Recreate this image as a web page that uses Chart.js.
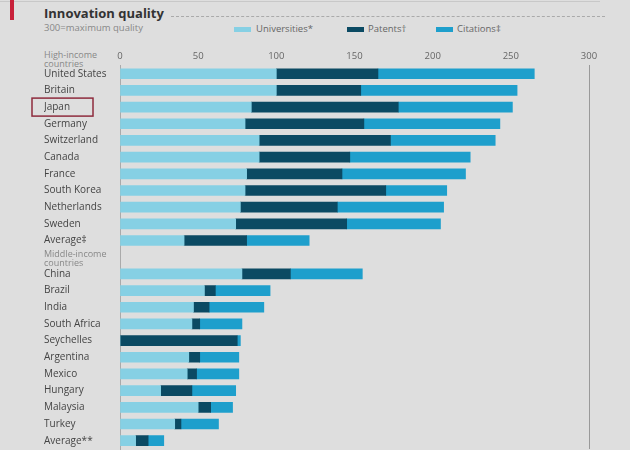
<!DOCTYPE html>
<html>
<head>
<meta charset="utf-8">
<script src="https://cdn.jsdelivr.net/npm/chart.js@4"></script>
<style>
  body { margin: 0; background: #dedede; font-family: "Open Sans", sans-serif; }
  #wrap { position: relative; width: 630px; height: 450px; overflow: hidden; }
  #chart { position: absolute; left: 0; top: 0; }
  .abs { position: absolute; white-space: nowrap; }
  .sw { position: absolute; width: 17px; height: 5px; }
  .lg { position: absolute; font-size: 9.5px; color: #666; }
</style>
</head>
<body>
<div id="wrap">
  <div class="abs" style="left:0;top:1px;width:600px;height:1px;background:#c8c8c8"></div>
  <div class="abs" style="left:10px;top:0;width:4px;height:20px;background:#c8213a"></div>
  <div class="abs" style="left:44px;top:4px;font-size:13px;font-weight:bold;color:#333">Innovation quality</div>
  <div class="abs" style="left:171px;top:16px;width:434px;border-top:1px dashed #aaa"></div>
  <div class="abs" style="left:44px;top:21px;font-size:9.5px;color:#888">300=maximum quality</div>
  <div class="sw" style="left:234px;top:27px;background:#86d0e4"></div>
  <div class="lg" style="left:256px;top:22px">Universities*</div>
  <div class="sw" style="left:347px;top:27px;background:#0b4a63"></div>
  <div class="lg" style="left:368px;top:22px">Patents†</div>
  <div class="sw" style="left:436px;top:27px;background:#1e9fcc"></div>
  <div class="lg" style="left:457px;top:22px">Citations‡</div>
  <div class="abs" style="left:44px;top:50px;font-size:9px;line-height:9px;color:#888">High-income<br>countries</div>
  <canvas id="chart" width="630" height="459"></canvas>
</div>
<script>
const countries = ['United States', 'Britain', 'Japan', 'Germany', 'Switzerland', 'Canada', 'France',
  'South Korea', 'Netherlands', 'Sweden', 'Average‡', '',
  'China', 'Brazil', 'India', 'South Africa', 'Seychelles', 'Argentina', 'Mexico', 'Hungary',
  'Malaysia', 'Turkey', 'Average**'];
const groupLabel = ['Middle-income', 'countries'];

const universities = [100, 100, 84, 80, 89, 89, 81, 80, 77, 74, 41, null,
  78, 54, 47, 46, 0, 44, 43, 26, 50, 35, 10];
const patents = [65, 54, 94, 76, 84, 58, 61, 90, 62, 71, 40, null,
  31, 7, 10, 5, 75, 7, 6, 20, 8, 4, 8];
const citations = [100, 100, 73, 87, 67, 77, 79, 39, 68, 60, 40, null,
  46, 35, 35, 27, 2, 25, 27, 28, 14, 24, 10];

const xTicks = [0, 50, 100, 150, 200, 250, 300];

// red box round Japan, and the middle-income group label
const extras = {
  id: 'extras',
  afterDraw(chart) {
    const ctx = chart.ctx;
    const y = chart.scales.y.getPixelForValue(2);
    ctx.save();
    ctx.strokeStyle = '#8e2b3d';
    ctx.lineWidth = 1.5;
    ctx.strokeRect(32, y - 9, 61, 18);
    const gy = chart.scales.y.getPixelForValue(11);
    ctx.fillStyle = '#888';
    ctx.font = '9px "Open Sans"';
    ctx.textBaseline = 'middle';
    ctx.fillText(groupLabel[0], 44, gy - 3);
    ctx.fillText(groupLabel[1], 44, gy + 6);
    ctx.restore();
  }
};

new Chart(document.getElementById('chart'), {
  type: 'bar',
  data: {
    labels: countries,
    datasets: [
      { label: 'Universities*', data: universities, backgroundColor: '#86d0e4' },
      { label: 'Patents†', data: patents, backgroundColor: '#0b4a63' },
      { label: 'Citations‡', data: citations, backgroundColor: '#1e9fcc' }
    ]
  },
  options: {
    indexAxis: 'y',
    responsive: false,
    animation: false,
    barThickness: 10,
    layout: { padding: { left: 44, right: 41, top: 48, bottom: 0 } },
    plugins: { legend: { display: false }, tooltip: { enabled: false } },
    scales: {
      x: {
        position: 'top',
        stacked: true,
        min: 0,
        max: 300,
        afterBuildTicks(scale) { scale.ticks = xTicks.map(v => ({ value: v })); },
        ticks: { color: '#666', font: { size: 9.5, family: 'Open Sans' }, padding: 3 },
        grid: {
          drawTicks: false,
          color: ctx => (ctx.tick && ctx.tick.value === 300) ? '#999' : 'rgba(0,0,0,0)'
        },
        border: { display: false }
      },
      y: {
        stacked: true,
        afterFit(scale) { scale.width = 76; },
        ticks: {
          autoSkip: false,
          crossAlign: 'far',
          padding: 4,
          color: '#444',
          font: { size: 10, family: 'Open Sans' }
        },
        grid: { display: false, drawTicks: false },
        border: { display: true, color: '#aaa' }
      }
    }
  },
  plugins: [extras]
});
</script>
</body>
</html>
